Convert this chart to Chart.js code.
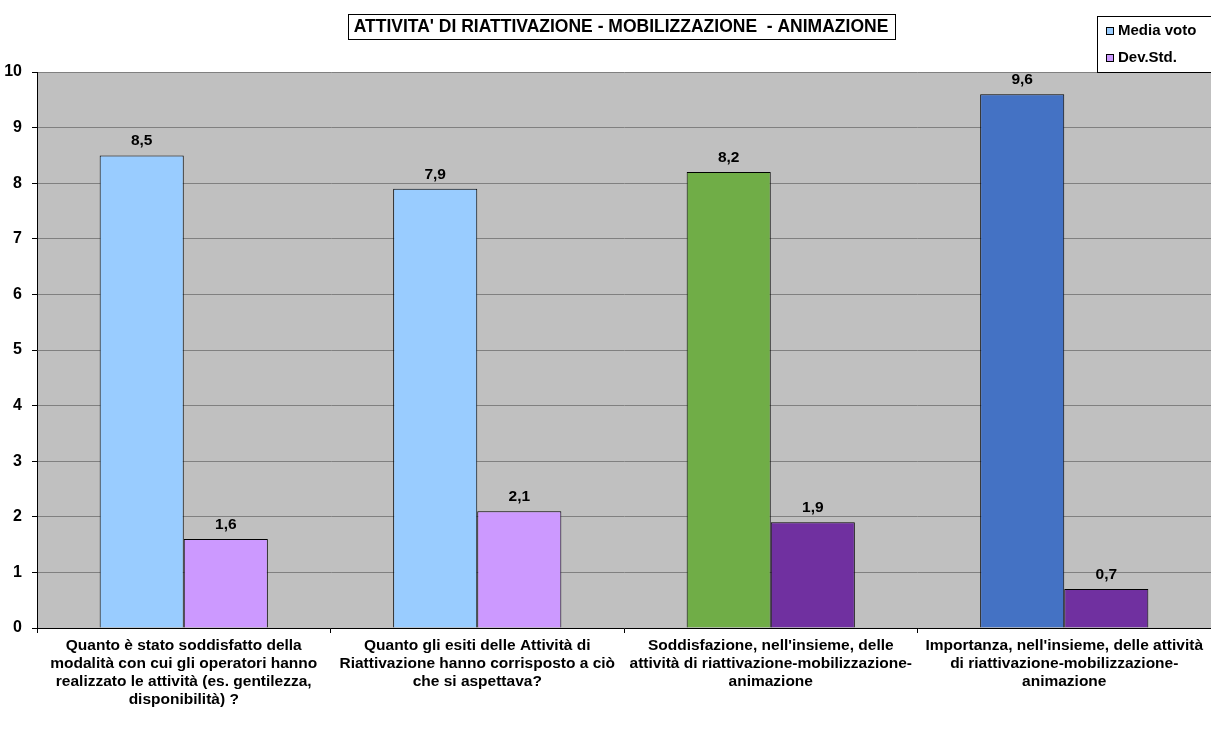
<!DOCTYPE html>
<html>
<head>
<meta charset="utf-8">
<script src="https://cdn.jsdelivr.net/npm/chart.js@4/dist/chart.umd.min.js"></script>
<style>
  html, body { margin: 0; padding: 0; background: #fff; }
  #wrap { width: 1211px; height: 739px; position: relative; }
</style>
</head>
<body>
<div id="wrap"><canvas id="chart"></canvas></div>
<script>
const titleText = "ATTIVITA' DI RIATTIVAZIONE - MOBILIZZAZIONE  - ANIMAZIONE";
const categories = [
  ['Quanto è stato soddisfatto della', 'modalità con cui gli operatori hanno', 'realizzato le attività (es. gentilezza,', 'disponibilità) ?'],
  ['Quanto gli esiti delle Attività di', 'Riattivazione hanno corrisposto a ciò', 'che si aspettava?'],
  ["Soddisfazione, nell'insieme, delle", 'attività di riattivazione-mobilizzazione-', 'animazione'],
  ["Importanza, nell'insieme, delle attività", 'di riattivazione-mobilizzazione-', 'animazione']
];
const mediaVoto = [8.5, 7.9, 8.2, 9.6];
const devStd = [1.6, 2.1, 1.9, 0.7];
const mediaColors = ['#99ccff', '#99ccff', '#70ad47', '#4472c4'];
const devColors = ['#cc99ff', '#cc99ff', '#7030a0', '#7030a0'];
const legendLabels = ['Media voto', 'Dev.Std.'];
const legendColors = ['#99ccff', '#cc99ff'];

const FONT = '"Liberation Sans", Arial, sans-serif';

const decorPlugin = {
  id: 'decor',
  beforeDraw(chart) {
    const { ctx, chartArea: a } = chart;
    ctx.save();
    ctx.fillStyle = '#ffffff';
    ctx.fillRect(0, 0, chart.width, chart.height);
    ctx.fillStyle = '#c0c0c0';
    ctx.fillRect(a.left, a.top, a.right - a.left, a.bottom - a.top);
    ctx.restore();
  },
  afterDatasetsDraw(chart) {
    const ctx = chart.ctx;
    ctx.save();
    ctx.font = 'bold 15.5px ' + FONT;
    ctx.fillStyle = '#000';
    ctx.textAlign = 'center';
    ctx.textBaseline = 'alphabetic';
    chart.data.datasets.forEach((ds, i) => {
      chart.getDatasetMeta(i).data.forEach((bar, j) => {
        ctx.fillText(ds.data[j].toFixed(1).replace('.', ','), bar.x, bar.y - 10);
      });
    });
    ctx.restore();
  },
  afterDraw(chart) {
    const ctx = chart.ctx;
    ctx.save();
    // title with box
    ctx.font = 'bold 17.5px ' + FONT;
    ctx.fillStyle = '#000';
    ctx.textAlign = 'center';
    ctx.textBaseline = 'middle';
    const tw = ctx.measureText(titleText).width;
    const cx = 621, cy = 27;
    ctx.fillText(titleText, cx, cy);
    ctx.strokeStyle = '#000';
    ctx.lineWidth = 1;
    ctx.strokeRect(Math.round(cx - tw / 2 - 6) + 0.5, 14.5, Math.round(tw + 12), 25);
    // legend box
    ctx.fillStyle = '#fff';
    ctx.fillRect(1097, 16, 120, 56);
    ctx.strokeRect(1097.5, 16.5, 120, 56);
    ctx.font = 'bold 15px ' + FONT;
    ctx.textAlign = 'left';
    legendLabels.forEach((lab, i) => {
      const y = 31 + i * 27;
      ctx.fillStyle = legendColors[i];
      ctx.fillRect(1106, y - 4, 8, 8);
      ctx.strokeStyle = '#000';
      ctx.strokeRect(1106.5, y - 3.5, 7, 7);
      ctx.fillStyle = '#000';
      ctx.fillText(lab, 1118, y);
    });
    ctx.restore();
  }
};

new Chart(document.getElementById('chart'), {
  type: 'bar',
  data: {
    labels: categories,
    datasets: [
      { label: legendLabels[0], data: mediaVoto, backgroundColor: mediaColors, borderColor: '#000', borderWidth: 1 },
      { label: legendLabels[1], data: devStd, backgroundColor: devColors, borderColor: '#000', borderWidth: 1 }
    ]
  },
  options: {
    responsive: true,
    maintainAspectRatio: false,
    animation: false,
    layout: { padding: { top: 72, right: 0, left: 0, bottom: 0 } },
    plugins: {
      legend: { display: false },
      title: { display: false },
      tooltip: { enabled: false }
    },
    datasets: { bar: { categoryPercentage: 0.573, barPercentage: 1 } },
    scales: {
      x: {
        afterFit(scale) { scale.height = 111; },
        grid: { offset: true, drawOnChartArea: false, drawTicks: true, tickLength: 5, color: '#000' },
        border: { color: '#000' },
        ticks: {
          maxRotation: 0,
          autoSkip: false,
          padding: 4,
          color: '#000',
          font: { family: FONT, size: 15.5, weight: 'bold', lineHeight: 1.16 }
        }
      },
      y: {
        min: 0,
        max: 10,
        afterFit(scale) { scale.width = 37; },
        grid: { color: '#808080', tickLength: 5, tickColor: '#000', drawTicks: true },
        border: { color: '#000' },
        ticks: {
          stepSize: 1,
          padding: 10,
          color: '#000',
          font: { family: FONT, size: 16, weight: 'bold' }
        }
      }
    }
  },
  plugins: [decorPlugin]
});
</script>
</body>
</html>
